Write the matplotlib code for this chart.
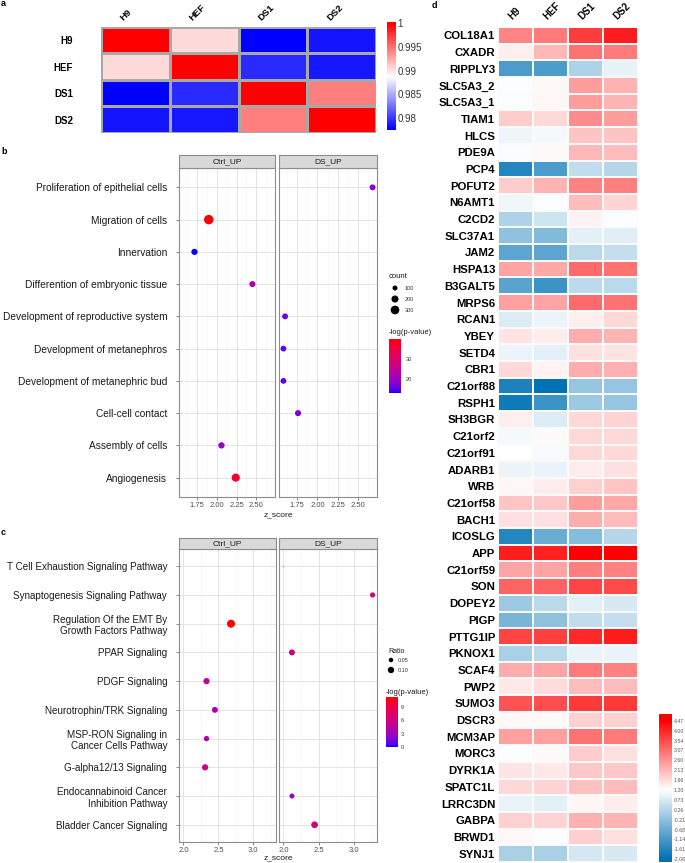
import numpy as np
import matplotlib
matplotlib.use("Agg")
import matplotlib.pyplot as plt
from matplotlib.colors import LinearSegmentedColormap, ListedColormap, Normalize

plt.rcParams['font.family'] = ['Liberation Sans', 'DejaVu Sans']

# ---------------- data: panel a ----------------
samples = ["H9", "HEF", "DS1", "DS2"]
corr_h9 = [1.0, 0.9904, 0.9775, 0.9784]
corr_hef = [0.9904, 1.0, 0.9794, 0.9785]
corr_ds1 = [0.9775, 0.9794, 1.0, 0.9944]
corr_ds2 = [0.9784, 0.9785, 0.9944, 1.0]
corr_ticks = [1, 0.995, 0.99, 0.985, 0.98]

# ---------------- data: panel b ----------------
bio_terms = ["Proliferation of epithelial cells", "Migration of cells", "Innervation",
             "Differention of embryonic tissue", "Development of reproductive system",
             "Development of metanephros", "Development of metanephric bud",
             "Cell-cell contact", "Assembly of cells", "Angiogenesis"]
bio_group = ["DS_UP", "Ctrl_UP", "Ctrl_UP", "Ctrl_UP", "DS_UP", "DS_UP", "DS_UP",
             "DS_UP", "Ctrl_UP", "Ctrl_UP"]
bio_z = [2.68, 1.90, 1.72, 2.45, 1.60, 1.58, 1.58, 1.76, 2.06, 2.24]
bio_count = [140, 360, 155, 150, 140, 135, 135, 150, 160, 265]
bio_logp = [18.0, 40.0, 13.0, 22.0, 16.5, 15.5, 15.5, 17.0, 20.0, 37.0]
bio_xticks = [1.75, 2.00, 2.25, 2.50]
count_breaks = [100, 200, 300]
bio_cbar_ticks = [20, 30]

# ---------------- data: panel c ----------------
path_terms = ["T Cell Exhaustion Signaling Pathway", "Synaptogenesis Signaling Pathway",
              "Regulation Of the EMT By\nGrowth Factors Pathway", "PPAR Signaling",
              "PDGF Signaling", "Neurotrophin/TRK Signaling",
              "MSP-RON Signaling in\nCancer Cells Pathway", "G-alpha12/13 Signaling",
              "Endocannabinoid Cancer\nInhibition Pathway", "Bladder Cancer Signaling"]
path_group = ["DS_UP", "DS_UP", "Ctrl_UP", "DS_UP", "Ctrl_UP", "Ctrl_UP", "Ctrl_UP",
              "Ctrl_UP", "DS_UP", "DS_UP"]
path_z = [2.00, 3.26, 2.68, 2.12, 2.33, 2.45, 2.33, 2.31, 2.12, 2.44]
path_ratio = [0.01, 0.065, 0.16, 0.088, 0.095, 0.085, 0.07, 0.095, 0.06, 0.11]
path_logp = [0.0, 6.5, 11.3, 5.5, 5.0, 3.5, 4.0, 5.0, 3.0, 6.5]
path_xticks = [2.0, 2.5, 3.0]
ratio_breaks = [0.05, 0.10]
path_cbar_ticks = [0, 3, 6, 9]

# ---------------- data: panel d ----------------
genes = ["COL18A1", "CXADR", "RIPPLY3", "SLC5A3_2", "SLC5A3_1", "TIAM1", "HLCS", "PDE9A",
         "PCP4", "POFUT2", "N6AMT1", "C2CD2", "SLC37A1", "JAM2", "HSPA13", "B3GALT5",
         "MRPS6", "RCAN1", "YBEY", "SETD4", "CBR1", "C21orf88", "RSPH1", "SH3BGR",
         "C21orf2", "C21orf91", "ADARB1", "WRB", "C21orf58", "BACH1", "ICOSLG", "APP",
         "C21orf59", "SON", "DOPEY2", "PIGP", "PTTG1IP", "PKNOX1", "SCAF4", "PWP2",
         "SUMO3", "DSCR3", "MCM3AP", "MORC3", "DYRK1A", "SPATC1L", "LRRC3DN", "GABPA",
         "BRWD1", "SYNJ1"]
expr_h9 = [2.77, 1.40, -1.10, 1.15, 1.15, 1.85, 0.98, 1.12, -1.60, 1.85, 1.00, 0.15,
           -0.22, -0.90, 2.37, -0.95, 2.40, 0.75, 1.55, 0.95, 1.70, -1.70, -1.90, 1.40,
           1.05, 1.20, 0.95, 1.30, 1.95, 1.60, -1.60, 4.08, 2.35, 3.17, -0.05, -0.50,
           3.60, 0.10, 2.25, 1.50, 3.40, 1.28, 2.40, 1.15, 1.55, 1.70, 0.92, 1.80,
           1.28, 0.10]
expr_hef = [2.90, 2.10, -1.10, 1.30, 1.30, 1.70, 1.05, 1.25, -1.10, 2.15, 1.15, 0.55,
            -0.40, -0.90, 2.30, -1.30, 2.35, 0.95, 1.45, 0.85, 1.35, -2.08, -1.30, 0.75,
            1.25, 1.08, 0.92, 1.45, 1.90, 1.60, -0.70, 4.05, 2.35, 3.20, 0.30, -0.25,
            3.65, 0.30, 2.35, 1.65, 3.45, 1.25, 2.40, 1.25, 1.50, 1.75, 0.85, 1.75,
            1.15, 0.10]
expr_ds1 = [3.70, 3.00, 0.15, 2.47, 2.45, 2.67, 1.95, 2.10, 0.40, 2.80, 2.05, 1.35,
            0.85, 0.30, 3.10, 0.35, 3.10, 1.40, 2.25, 1.60, 2.25, -0.15, -0.05, 1.70,
            1.70, 1.70, 1.45, 1.80, 2.47, 2.25, -0.35, 4.45, 2.85, 3.60, 0.85, 0.40,
            3.95, 0.92, 2.90, 2.05, 3.75, 1.80, 3.00, 1.85, 1.90, 2.00, 1.32, 2.20,
            1.80, 0.65]
expr_ds2 = [4.10, 2.90, 0.90, 2.17, 2.15, 2.47, 1.95, 2.05, 0.25, 2.85, 1.75, 1.15,
            0.80, 0.45, 3.00, 0.30, 3.00, 1.70, 2.15, 1.55, 2.20, -0.15, -0.15, 1.75,
            1.70, 1.70, 1.60, 1.95, 2.30, 2.05, 0.25, 4.47, 2.80, 3.50, 0.70, 0.45,
            4.10, 0.92, 2.80, 2.05, 3.75, 1.80, 2.90, 1.60, 1.90, 2.05, 1.45, 2.15,
            1.60, 0.70]
expr_ticks = [4.47, 4.00, 3.54, 3.07, 2.60, 2.13, 1.66, 1.20, 0.73, 0.26, -0.21, -0.68,
              -1.14, -1.61, -2.08]

# ---------------- helpers ----------------
W, H = 685, 863
fig = plt.figure(figsize=(W / 100, H / 100), dpi=100)


def axpx(x0, y0, x1, y1, **kw):
    return fig.add_axes([x0 / W, 1 - y1 / H, (x1 - x0) / W, (y1 - y0) / H], **kw)


def lab_gradient(c0, c1, n=256):
    t = np.linspace(0, 1, n)[:, None]
    lab = np.array(c0)[None, :] * (1 - t) + np.array(c1)[None, :] * t
    L, a, b = lab[:, 0], lab[:, 1], lab[:, 2]
    fy = (L + 16) / 116
    fx = fy + a / 500
    fz = fy - b / 200

    def finv(v):
        return np.where(v > 6 / 29, v ** 3, 3 * (6 / 29) ** 2 * (v - 4 / 29))
    X = 0.95047 * finv(fx)
    Y = finv(fy)
    Z = 1.08883 * finv(fz)
    r = 3.2406 * X - 1.5372 * Y - 0.4986 * Z
    g = -0.9689 * X + 1.8758 * Y + 0.0415 * Z
    bb = 0.0557 * X - 0.2040 * Y + 1.0570 * Z
    rgb = np.clip(np.stack([r, g, bb], -1), 0, 1)
    rgb = np.where(rgb <= 0.0031308, 12.92 * rgb, 1.055 * rgb ** (1 / 2.4) - 0.055)
    return ListedColormap(np.clip(rgb, 0, 1))


cmap_gg = lab_gradient((32.30, 79.19, -107.86), (53.24, 80.09, 67.20))

overlay = fig.add_axes([0, 0, 1, 1], zorder=10)
overlay.set_xlim(0, W)
overlay.set_ylim(H, 0)
overlay.axis('off')

# panel letters
for letter, (px, py) in zip("abcd", [(1, 4), (1, 152), (1, 532), (432, 6)]):
    overlay.text(px, py, letter, fontsize=6.5, fontweight='bold', va='center', ha='left')

# ---------------- panel a ----------------
axa = axpx(101, 27, 376, 133)
mat = np.array([corr_h9, corr_hef, corr_ds1, corr_ds2])
cmap_a = LinearSegmentedColormap.from_list("bwr_a", ["#0000FF", "#FFFFFF", "#FF0000"])
norm_a = Normalize(0.9775, 1.0)
axa.pcolormesh(np.arange(5) - 0.5, np.arange(5) - 0.5, mat, cmap=cmap_a, norm=norm_a,
               edgecolors='#A8A8A8', linewidth=1.0)
axa.set_xlim(-0.5, 3.5)
axa.set_ylim(3.5, -0.5)
for s in axa.spines.values():
    s.set_visible(False)
axa.set_xticks([])
axa.set_yticks(range(4))
axa.set_yticklabels(samples, fontsize=7, fontweight='bold')
axa.tick_params(axis='y', length=0, pad=20)
for i, s in enumerate(samples):
    axa.text(i - 0.15, -0.68, s, rotation=45, rotation_mode='anchor', ha='left',
             va='bottom', fontsize=6.8, fontweight='bold')

cba = axpx(387, 22, 395, 130)
cba.imshow(np.linspace(0.9775, 1.0003, 256)[:, None], aspect='auto', cmap=cmap_a,
           norm=norm_a, origin='lower', extent=[0, 1, 0.9775, 1.0003])
cba.set_xticks([])
cba.yaxis.tick_right()
cba.set_yticks(corr_ticks)
cba.set_yticklabels([f"{v:g}" for v in corr_ticks], fontsize=7, color='#333333')
cba.tick_params(axis='y', length=0, pad=2)
for s in cba.spines.values():
    s.set_visible(False)


# ---------------- facet dot plots ----------------
def facet_plot(panel_boxes, strip_boxes, terms, groups, z, size_px, cvals, vmin, vmax,
               xticks, xfmt, xlabel_y, label_fs):
    zmin, zmax = min(z), max(z)
    pad = 0.05 * (zmax - zmin)
    xl = (zmin - pad, zmax + pad)
    n = len(terms)
    step = xticks[1] - xticks[0]
    minors = [xticks[0] - step / 2] + [t + step / 2 for t in xticks]
    for k, (grp, pb, sb) in enumerate(zip(["Ctrl_UP", "DS_UP"], panel_boxes, strip_boxes)):
        ax = axpx(*pb)
        ax.set_xlim(xl)
        ax.set_ylim(n - 1 + 0.6, -0.6)
        for xv in minors:
            ax.axvline(xv, color='#F3F3F3', lw=0.4, zorder=0)
        for xv in xticks:
            ax.axvline(xv, color='#E4E4E4', lw=0.7, zorder=0)
        for yv in range(n):
            ax.axhline(yv, color='#E4E4E4', lw=0.7, zorder=0)
        idx = [i for i, g in enumerate(groups) if g == grp]
        ax.scatter([z[i] for i in idx], idx, s=[(size_px[i] * 0.72) ** 2 for i in idx],
                   c=[cvals[i] for i in idx], cmap=cmap_gg, vmin=vmin, vmax=vmax,
                   edgecolors='none', zorder=3)
        for s in ax.spines.values():
            s.set_color('#8C8C8C')
            s.set_linewidth(0.8)
        ax.set_xticks(xticks)
        ax.set_xticklabels([xfmt.format(v) for v in xticks], fontsize=5.5, color='#4D4D4D')
        ax.tick_params(axis='x', length=2, width=0.5, color='#555555', pad=1.5)
        ax.set_yticks(range(n))
        if k == 0:
            ax.set_yticklabels(terms, fontsize=label_fs, color='#1A1A1A')
            ax.tick_params(axis='y', length=2, width=0.5, color='#555555', pad=6.5)
        else:
            ax.set_yticklabels([])
            ax.tick_params(axis='y', length=0)
        st = axpx(*sb)
        st.set_facecolor('#D9D9D9')
        st.set_xticks([])
        st.set_yticks([])
        for s in st.spines.values():
            s.set_color('#8C8C8C')
            s.set_linewidth(0.8)
        st.text(0.5, 0.5, grp, ha='center', va='center', fontsize=6, color='#1A1A1A',
                transform=st.transAxes)
    overlay.text(278, xlabel_y, "z_score", ha='center', va='center', fontsize=6,
                 color='#1A1A1A')


# panel b
bio_size = [0.5 * np.sqrt(c) for c in bio_count]
facet_plot([(179, 168, 275, 497), (279, 168, 377, 497)],
           [(179, 155, 275, 168), (279, 155, 377, 168)],
           bio_terms, bio_group, bio_z, bio_size, bio_logp,
           min(bio_logp), max(bio_logp), bio_xticks, "{:.2f}", 515, 7.3)

overlay.text(389, 276, "count", fontsize=5.5, va='center', ha='left', color='#1A1A1A')
for yy, cb in zip([288, 299, 310], count_breaks):
    overlay.scatter([395], [yy], s=(0.5 * np.sqrt(cb) * 0.72) ** 2, color='black',
                    edgecolors='none')
    overlay.text(405, yy, str(cb), fontsize=4, va='center', ha='left', color='#333333')
overlay.text(389, 332, "-log(p-value)", fontsize=5.5, va='center', ha='left',
             color='#1A1A1A')
cbb = axpx(389, 339, 400, 393)
vb0, vb1 = min(bio_logp), max(bio_logp)
cbb.imshow(np.linspace(vb0, vb1, 256)[:, None], aspect='auto', cmap=cmap_gg,
           origin='lower', extent=[0, 1, vb0, vb1], vmin=vb0, vmax=vb1)
cbb.set_xticks([])
cbb.yaxis.tick_right()
cbb.set_yticks(bio_cbar_ticks)
cbb.set_yticklabels([str(v) for v in bio_cbar_ticks], fontsize=4, color='#333333')
cbb.tick_params(axis='y', length=0, pad=4)
for s in cbb.spines.values():
    s.set_visible(False)

# panel c
rmin, rmax = min(path_ratio), max(path_ratio)


def ratio_px(r):
    return 0.8 + 7.2 * np.sqrt(max(r - rmin, 0) / (rmax - rmin))


path_size = [ratio_px(r) for r in path_ratio]
facet_plot([(179, 549, 276, 842), (279, 549, 377, 842)],
           [(179, 538, 276, 549), (279, 538, 377, 549)],
           path_terms, path_group, path_z, path_size, path_logp,
           min(path_logp), max(path_logp), path_xticks, "{:.1f}", 858, 7.15)

overlay.text(388, 651, "Ratio", fontsize=5, va='center', ha='left', color='#1A1A1A')
for yy, rb in zip([660, 670], ratio_breaks):
    overlay.scatter([391], [yy], s=(ratio_px(rb) * 0.72) ** 2, color='black',
                    edgecolors='none')
    overlay.text(398, yy, f"{rb:.2f}", fontsize=4, va='center', ha='left', color='#333333')
overlay.text(386, 692, "-log(p-value)", fontsize=5.5, va='center', ha='left',
             color='#1A1A1A')
cbc = axpx(386, 697, 397, 747)
vc0, vc1 = min(path_logp), max(path_logp)
cbc.imshow(np.linspace(vc0, vc1, 256)[:, None], aspect='auto', cmap=cmap_gg,
           origin='lower', extent=[0, 1, vc0, vc1], vmin=vc0, vmax=vc1)
cbc.set_xticks([])
cbc.yaxis.tick_right()
cbc.set_yticks(path_cbar_ticks)
cbc.set_yticklabels([str(v) for v in path_cbar_ticks], fontsize=4, color='#333333')
cbc.tick_params(axis='y', length=0, pad=3)
for s in cbc.spines.values():
    s.set_visible(False)

# ---------------- panel d ----------------
axd = axpx(498, 27, 638, 862)
emat = np.array([expr_h9, expr_hef, expr_ds1, expr_ds2]).T
cmap_d = LinearSegmentedColormap.from_list("bwr_d", ["#0072B5", "#FFFFFF", "#FF0000"])
norm_d = Normalize(min(expr_ticks), max(expr_ticks))
axd.pcolormesh(np.arange(5) - 0.5, np.arange(len(genes) + 1) - 0.5, emat, cmap=cmap_d,
               norm=norm_d, edgecolors='#FAFAFA', linewidth=0.3)
axd.set_xlim(-0.5, 3.5)
axd.set_ylim(len(genes) - 0.5, -0.5)
for s in axd.spines.values():
    s.set_visible(False)
axd.set_xticks([])
axd.set_yticks(range(len(genes)))
axd.set_yticklabels(genes, fontsize=8.2, fontweight='bold')
axd.tick_params(axis='y', length=0, pad=2)
for i, s in enumerate(samples):
    axd.text(i - 0.05, -0.5 - 0.35, s, rotation=45, rotation_mode='anchor', ha='left',
             va='bottom', fontsize=7, fontweight='bold')

cbd = axpx(659, 714, 672, 862)
lo, hi = -2.22, 4.80
cbd.imshow(np.linspace(lo, hi, 256)[:, None], aspect='auto', cmap=cmap_d, norm=norm_d,
           origin='lower', extent=[0, 1, lo, hi])
cbd.set_xticks([])
cbd.yaxis.tick_right()
cbd.set_yticks(expr_ticks)
cbd.set_yticklabels([f"{v:.2f}" for v in expr_ticks], fontsize=3.8, color='#555555')
cbd.tick_params(axis='y', length=0, pad=1.2)
for s in cbd.spines.values():
    s.set_visible(False)

fig.savefig("out.png", dpi=100)
